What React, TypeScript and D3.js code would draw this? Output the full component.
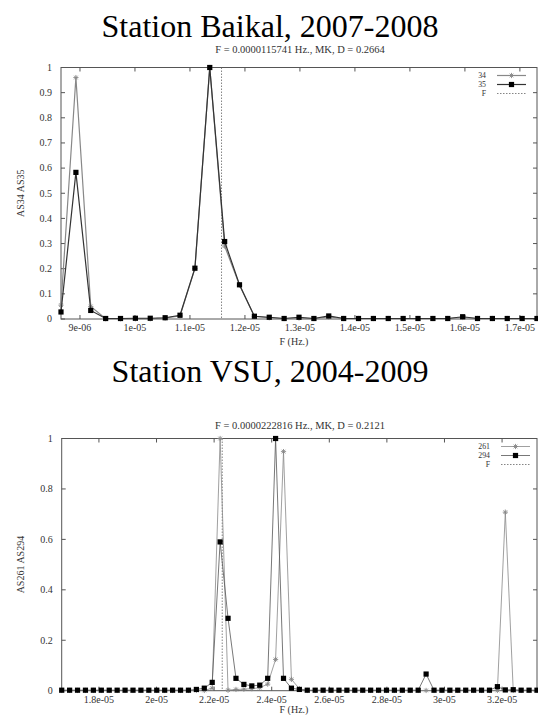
import * as d3 from "d3";

// ---- data (frequencies in µHz, amplitudes normalised) ----
const freqBaikal = [
  8.655, 8.926, 9.196, 9.467, 9.737, 10.008, 10.278, 10.549, 10.819, 11.09, 11.36,
  11.631, 11.901, 12.172, 12.442, 12.713, 12.983, 13.254, 13.524, 13.795, 14.065,
  14.336, 14.606, 14.877, 15.147, 15.418, 15.688, 15.959, 16.229, 16.5, 16.77,
  17.041, 17.311,
];
const as34 = [
  0.055, 0.96, 0.05, 0.001, 0.001, 0.001, 0.001, 0.004, 0.012, 0.2, 1.0,
  0.29, 0.135, 0.01, 0.005, 0.002, 0.004, 0.002, 0.008, 0.002, 0.002,
  0.002, 0.002, 0.002, 0.002, 0.002, 0.002, 0.006, 0.002, 0.002, 0.002,
  0.002, 0.002,
];
const as35 = [
  0.028, 0.583, 0.034, 0.002, 0.002, 0.003, 0.003, 0.005, 0.015, 0.202, 1.0,
  0.308, 0.136, 0.011, 0.007, 0.002, 0.007, 0.002, 0.012, 0.002, 0.002,
  0.002, 0.002, 0.002, 0.002, 0.002, 0.002, 0.009, 0.002, 0.002, 0.002,
  0.002, 0.002,
];

const freqVsu = [
  16.707, 16.982, 17.257, 17.532, 17.807, 18.083, 18.358, 18.633, 18.908, 19.183,
  19.458, 19.733, 20.008, 20.283, 20.558, 20.834, 21.109, 21.384, 21.659, 21.934,
  22.209, 22.484, 22.759, 23.034, 23.309, 23.585, 23.86, 24.135, 24.41, 24.685,
  24.96, 25.235, 25.51, 25.785, 26.06, 26.336, 26.611, 26.886, 27.161, 27.436,
  27.711, 27.986, 28.261, 28.536, 28.811, 29.087, 29.362, 29.637, 29.912, 30.187,
  30.462, 30.737, 31.012, 31.287, 31.562, 31.838, 32.113, 32.388, 32.663, 32.938,
  33.213,
];
const as261 = [
  0.001, 0.001, 0.001, 0.001, 0.001, 0.001, 0.001, 0.001, 0.001, 0.001,
  0.001, 0.001, 0.001, 0.001, 0.001, 0.001, 0.001, 0.001, 0.001, 0.01,
  1.0, 0.002, 0.005, 0.006, 0.008, 0.012, 0.026, 0.124, 0.948, 0.045,
  0.008, 0.001, 0.001, 0.001, 0.001, 0.001, 0.001, 0.001, 0.001, 0.001,
  0.001, 0.001, 0.001, 0.001, 0.001, 0.001, 0.001, 0.001, 0.001, 0.001,
  0.001, 0.001, 0.001, 0.001, 0.001, 0.001, 0.708, 0.001, 0.001, 0.001,
  0.001,
];
const as294 = [
  0.002, 0.002, 0.002, 0.002, 0.002, 0.002, 0.002, 0.002, 0.002, 0.002,
  0.002, 0.002, 0.002, 0.002, 0.002, 0.002, 0.002, 0.005, 0.01, 0.033,
  0.59, 0.287, 0.049, 0.025, 0.019, 0.022, 0.049, 1.0, 0.049, 0.01,
  0.005, 0.002, 0.002, 0.002, 0.002, 0.002, 0.002, 0.002, 0.002, 0.002,
  0.002, 0.002, 0.002, 0.002, 0.002, 0.002, 0.066, 0.002, 0.002, 0.002,
  0.002, 0.002, 0.002, 0.002, 0.002, 0.016, 0.003, 0.004, 0.002, 0.002,
  0.002,
];

const xTicksBaikal = [9e-6, 1e-5, 1.1e-5, 1.2e-5, 1.3e-5, 1.4e-5, 1.5e-5, 1.6e-5, 1.7e-5];
const xLabelsBaikal = ["9e-06", "1e-05", "1.1e-05", "1.2e-05", "1.3e-05", "1.4e-05", "1.5e-05", "1.6e-05", "1.7e-05"];
const yTicksBaikal = [0, 0.1, 0.2, 0.3, 0.4, 0.5, 0.6, 0.7, 0.8, 0.9, 1];
const yLabelsBaikal = ["0", "0.1", "0.2", "0.3", "0.4", "0.5", "0.6", "0.7", "0.8", "0.9", "1"];

const xTicksVsu = [1.8e-5, 2e-5, 2.2e-5, 2.4e-5, 2.6e-5, 2.8e-5, 3e-5, 3.2e-5];
const xLabelsVsu = ["1.8e-05", "2e-05", "2.2e-05", "2.4e-05", "2.6e-05", "2.8e-05", "3e-05", "3.2e-05"];
const yTicksVsu = [0, 0.2, 0.4, 0.6, 0.8, 1];
const yLabelsVsu = ["0", "0.2", "0.4", "0.6", "0.8", "1"];

const FONT = "'Liberation Serif', 'DejaVu Serif', serif";
const FRAME = "#555";
const TXT = "#333";

type Series = { name: string; values: number[]; marker: "star" | "square"; color: string };

function Star({ x, y, color }: { x: number; y: number; color: string }) {
  const s = 2.6;
  return (
    <path
      d={`M${x - s},${y}H${x + s}M${x},${y - s}V${y + s}M${x - s * 0.7},${y - s * 0.7}L${x + s * 0.7},${y + s * 0.7}M${x - s * 0.7},${y + s * 0.7}L${x + s * 0.7},${y - s * 0.7}`}
      stroke={color}
      strokeWidth={0.9}
      fill="none"
    />
  );
}

function Square({ x, y }: { x: number; y: number }) {
  return <rect x={x - 2.6} y={y - 2.6} width={5.2} height={5.2} fill="#000" />;
}

function Panel(props: {
  title: string;
  subtitle: string;
  yLabel: string;
  freqs: number[];
  series: Series[];
  fLine: number;
  xTicks: number[];
  xLabels: string[];
  yTicks: number[];
  yLabels: string[];
  left: number;
  right: number;
  top: number;
  bottom: number;
  titleY: number;
  subY: number;
  xTickY: number;
  xLabY: number;
  legendX: number;
  lineW: number;
}) {
  const { left, right, top, bottom } = props;
  const fr = props.freqs.map((f) => f * 1e-6);
  const x = d3.scaleLinear().domain(d3.extent(fr) as [number, number]).range([left, right]);
  const y = d3.scaleLinear().domain([0, 1]).range([bottom, top]);
  const line = d3
    .line<number>()
    .x((_, i) => x(fr[i]))
    .y((v) => y(v));
  const tl = 4;
  const lx = props.legendX;
  const lStep = 9;

  return (
    <g fontFamily={FONT}>
      <text x={270} y={props.titleY} fontSize={32} textAnchor="middle" fill="#000">
        {props.title}
      </text>
      <text x={300} y={props.subY} fontSize={10.5} textAnchor="middle" fill={TXT}>
        {props.subtitle}
      </text>

      {/* frame + ticks */}
      <rect x={left} y={top} width={right - left} height={bottom - top} fill="none" stroke={FRAME} strokeWidth={1} />
      <g stroke={FRAME} strokeWidth={1}>
        {props.xTicks.map((t) => (
          <g key={`xt${t}`}>
            <line x1={x(t)} x2={x(t)} y1={bottom} y2={bottom - tl} />
            <line x1={x(t)} x2={x(t)} y1={top} y2={top + tl} />
          </g>
        ))}
        {props.yTicks.map((t) => (
          <g key={`yt${t}`}>
            <line x1={left} x2={left + tl} y1={y(t)} y2={y(t)} />
            <line x1={right} x2={right - tl} y1={y(t)} y2={y(t)} />
          </g>
        ))}
      </g>
      <g fontSize={10} fill={TXT}>
        {props.xTicks.map((t, i) => (
          <text key={`xl${t}`} x={x(t)} y={props.xTickY} textAnchor="middle">
            {props.xLabels[i]}
          </text>
        ))}
        {props.yTicks.map((t, i) => (
          <text key={`yl${t}`} x={left - 9} y={y(t)} dy="0.33em" textAnchor="end">
            {props.yLabels[i]}
          </text>
        ))}
        <text x={294} y={props.xLabY} textAnchor="middle">
          F (Hz.)
        </text>
        <text
          x={24}
          y={(top + bottom) / 2}
          textAnchor="middle"
          transform={`rotate(-90, 24, ${(top + bottom) / 2})`}
        >
          {props.yLabel}
        </text>
      </g>

      {/* F line */}
      <line
        x1={x(props.fLine)}
        x2={x(props.fLine)}
        y1={top}
        y2={bottom}
        stroke="#666"
        strokeWidth={0.8}
        strokeDasharray="1.5,1.5"
      />

      {/* series */}
      {props.series.map((s) => (
        <g key={s.name}>
          <path d={line(s.values) ?? ""} fill="none" stroke={s.color} strokeWidth={props.lineW} />
          {s.values.map((v, i) =>
            s.marker === "star" ? (
              <Star key={i} x={x(fr[i])} y={y(v)} color={s.color} />
            ) : (
              <Square key={i} x={x(fr[i])} y={y(v)} />
            ),
          )}
        </g>
      ))}

      {/* legend */}
      <g fontSize={7.8} fill={TXT}>
        {props.series.map((s, i) => {
          const ly = top + 8 + i * lStep;
          return (
            <g key={`lg${s.name}`}>
              <text x={lx} y={ly} dy="0.33em" textAnchor="end">
                {s.name}
              </text>
              <line x1={lx + 11} x2={lx + 40} y1={ly} y2={ly} stroke={s.color} strokeWidth={props.lineW} />
              {s.marker === "star" ? (
                <Star x={lx + 25.5} y={ly} color={s.color} />
              ) : (
                <Square x={lx + 25.5} y={ly} />
              )}
            </g>
          );
        })}
        <text x={lx} y={top + 8 + 2 * lStep} dy="0.33em" textAnchor="end">
          F
        </text>
        <line
          x1={lx + 11}
          x2={lx + 40}
          y1={top + 8 + 2 * lStep}
          y2={top + 8 + 2 * lStep}
          stroke="#666"
          strokeWidth={0.8}
          strokeDasharray="1.5,1.5"
        />
      </g>
    </g>
  );
}

export default function App() {
  return (
    <svg
      width={538}
      height={715}
      style={{ position: "absolute", left: 0, top: 0, background: "#fff" }}
    >
      <Panel
        title="Station Baikal, 2007-2008"
        subtitle="F = 0.0000115741 Hz., MK, D = 0.2664"
        yLabel="AS34  AS35"
        freqs={freqBaikal}
        series={[
          { name: "34", values: as34, marker: "star", color: "#888" },
          { name: "35", values: as35, marker: "square", color: "#333" },
        ]}
        fLine={0.0000115741}
        xTicks={xTicksBaikal}
        xLabels={xLabelsBaikal}
        yTicks={yTicksBaikal}
        yLabels={yLabelsBaikal}
        left={61}
        right={537}
        top={67.5}
        bottom={319}
        titleY={37}
        subY={53}
        xTickY={331}
        xLabY={344.5}
        legendX={486}
        lineW={1.2}
      />
      <Panel
        title="Station VSU, 2004-2009"
        subtitle="F = 0.0000222816 Hz., MK, D = 0.2121"
        yLabel="AS261  AS294"
        freqs={freqVsu}
        series={[
          { name: "261", values: as261, marker: "star", color: "#888" },
          { name: "294", values: as294, marker: "square", color: "#555" },
        ]}
        fLine={0.0000222816}
        xTicks={xTicksVsu}
        xLabels={xLabelsVsu}
        yTicks={yTicksVsu}
        yLabels={yLabelsVsu}
        left={61.7}
        right={537}
        top={438.5}
        bottom={690.7}
        titleY={382}
        subY={428.5}
        xTickY={703}
        xLabY={712.5}
        legendX={490}
        lineW={0.8}
      />
    </svg>
  );
}
